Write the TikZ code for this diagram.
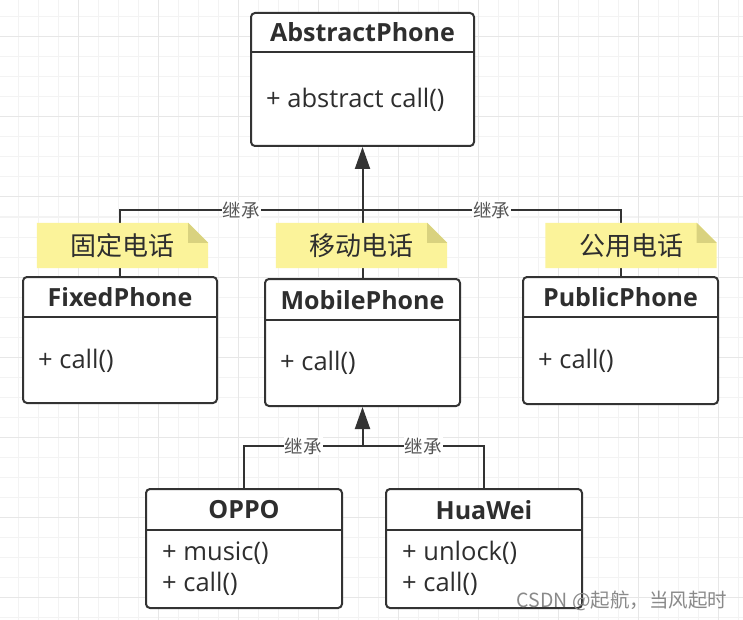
\documentclass[tikz,border=0pt]{standalone}
\usepackage{fontspec}
\setmainfont{Open Sans}
\newfontfamily\cjk{Noto Sans CJK SC}
\usetikzlibrary{arrows.meta,calc}
\pgfdeclarelayer{bg}
\pgfdeclarelayer{edges}
\pgfdeclarelayer{notefill}
\pgfsetlayers{bg,edges,notefill,main}
\definecolor{linec}{HTML}{333333}
\definecolor{textc}{HTML}{2E2E2E}
\definecolor{labc}{HTML}{555555}
\definecolor{notey}{HTML}{FBF39A}
\definecolor{notefold}{HTML}{D9D27F}
\definecolor{gridminor}{HTML}{F3F3F3}
\definecolor{gridmajor}{HTML}{E7E7E7}
\definecolor{wmc}{HTML}{8A8A8A}
\newcommand\notebg[1]{%
  \begin{pgfonlayer}{notefill}
    \fill[notey] (#1.north west) -- ([xshift=-20pt]#1.north east) -- ([yshift=-20pt]#1.north east) -- (#1.south east) -- (#1.south west) -- cycle;
    \fill[notefold] ([xshift=-20pt]#1.north east) -- ([xshift=-20pt,yshift=-20pt]#1.north east) -- ([yshift=-20pt]#1.north east) -- cycle;
  \end{pgfonlayer}}
\begin{document}
\begin{tikzpicture}[x=1pt,y=-1pt,
  classbox/.style={draw=linec, line width=2pt, fill=white, rounded corners=4pt, inner sep=0pt, anchor=north west},
  divider/.style={draw=linec, line width=2pt},
  titlef/.style={font=\bfseries\fontsize{25}{28}\selectfont, text=textc, inner sep=0pt},
  bodyf/.style={font=\fontsize{25.5}{28}\selectfont, text=textc, inner sep=0pt, anchor=west},
  edge/.style={draw=linec, line width=2pt},
  inh/.style={draw=linec, line width=2pt, -{Triangle[length=22pt,width=15pt]}},
  elabel/.style={font=\cjk\fontsize{18.5}{19}\selectfont, text=labc, fill=white, inner sep=1pt},
  notebox/.style={minimum width=171pt, minimum height=45pt, inner sep=0pt, font=\cjk\fontsize{26}{27}\selectfont, text=textc},
  wm/.style={font=\cjk\fontsize{19.5}{21}\selectfont, text=wmc, inner sep=0pt}]
\useasboundingbox (0,0) rectangle (743,620);
% background and grid
\begin{pgfonlayer}{bg}
  \fill[white] (0,0) rectangle (743,620);
  \foreach \i in {0,...,36} {\draw[gridminor, line width=1pt] ({18+20*\i},0) -- ({18+20*\i},620);}
  \foreach \j in {0,...,30} {\draw[gridminor, line width=1pt] (0,{17+20*\j}) -- (743,{17+20*\j});}
  \foreach \i in {78,158,...,718} {\draw[gridmajor, line width=1pt] (\i,0) -- (\i,620);}
  \foreach \j in {37,117,...,597} {\draw[gridmajor, line width=1pt] (0,\j) -- (743,\j);}
\end{pgfonlayer}
% AbstractPhone
\node[classbox, minimum width=223pt, minimum height=133pt] (abstract) at (250,12) {};
\draw[divider] ($(abstract.north west)+(0,40)$) -- ($(abstract.north east)+(0,40)$);
\node[titlef] (abstractT) at ($(abstract.north)+(0,20.5)$) {AbstractPhone};
\node[bodyf] (abstractB) at ($(abstract.north west)+(16,88)$) {+ abstract call()};
% FixedPhone
\node[classbox, minimum width=194pt, minimum height=126pt] (fixed) at (22,276) {};
\draw[divider] ($(fixed.north west)+(0,41)$) -- ($(fixed.north east)+(0,41)$);
\node[titlef] (fixedT) at ($(fixed.north)+(0,21)$) {FixedPhone};
\node[bodyf] (fixedB) at ($(fixed.north west)+(16,85)$) {+ call()};
% MobilePhone
\node[classbox, minimum width=195pt, minimum height=127pt] (mobile) at (264,278) {};
\draw[divider] ($(mobile.north west)+(0,42)$) -- ($(mobile.north east)+(0,42)$);
\node[titlef] (mobileT) at ($(mobile.north)+(0,22)$) {MobilePhone};
\node[bodyf] (mobileB) at ($(mobile.north west)+(16,85)$) {+ call()};
% PublicPhone
\node[classbox, minimum width=195pt, minimum height=127pt] (public) at (522,276) {};
\draw[divider] ($(public.north west)+(0,41)$) -- ($(public.north east)+(0,41)$);
\node[titlef] (publicT) at ($(public.north)+(0,21)$) {PublicPhone};
\node[bodyf] (publicB) at ($(public.north west)+(16,85)$) {+ call()};
% OPPO
\node[classbox, minimum width=196pt, minimum height=119pt] (oppo) at (145,488) {};
\draw[divider] ($(oppo.north west)+(0,42)$) -- ($(oppo.north east)+(0,42)$);
\node[titlef] (oppoT) at ($(oppo.north)+(0,22)$) {OPPO};
\node[bodyf] (oppoB1) at ($(oppo.north west)+(17,65)$) {+ music()};
\node[bodyf] (oppoB2) at ($(oppo.north west)+(17,96)$) {+ call()};
% HuaWei
\node[classbox, minimum width=196pt, minimum height=119pt] (huawei) at (385,488) {};
\draw[divider] ($(huawei.north west)+(0,42)$) -- ($(huawei.north east)+(0,42)$);
\node[titlef] (huaweiT) at ($(huawei.north)+(0,22)$) {HuaWei};
\node[bodyf] (huaweiB1) at ($(huawei.north west)+(17,65)$) {+ unlock()};
\node[bodyf] (huaweiB2) at ($(huawei.north west)+(17,96)$) {+ call()};
% connectors
\coordinate (y1) at (0,210);
\coordinate (y2) at (0,446);
\coordinate (j1) at (abstract.south |- y1);
\coordinate (j2) at (mobile.south |- y2);
\begin{pgfonlayer}{edges}
  \draw[inh] (mobile.north) -- (abstract.south);
  \draw[edge] (fixed.north) |- node[elabel, pos=0.75] (lab1) {继承} (j1);
  \draw[edge] (public.north) |- node[elabel, pos=0.75] (lab2) {继承} (j1);
  \draw[inh] (oppo.north) |- node[elabel, pos=0.75] (lab3) {继承} (j2) -- (mobile.south);
  \draw[edge] (huawei.north) |- node[elabel, pos=0.75] (lab4) {继承} (j2);
\end{pgfonlayer}
% notes
\node[notebox] (note1) at (122.5,245.5) {固定电话};
\notebg{note1}
\node[notebox] (note2) at (361.5,245.5) {移动电话};
\notebg{note2}
\node[notebox] (note3) at (631,245.5) {公用电话};
\notebg{note3}
% watermark
\node[wm] (wm) at (622,601) {CSDN @起航，当风起时};
\end{tikzpicture}
\end{document}
